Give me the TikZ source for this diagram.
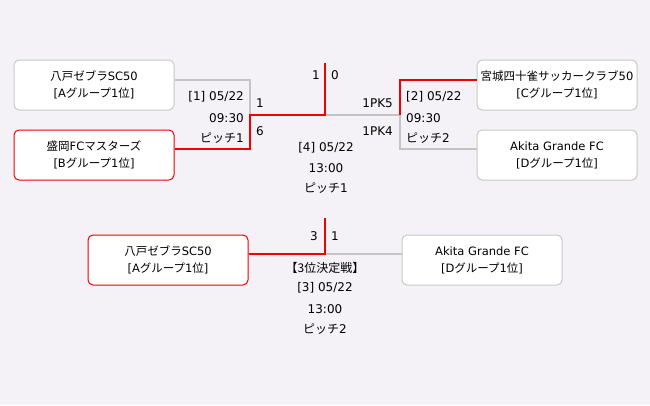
\documentclass[tikz,border=0pt]{standalone}
\usepackage{fontspec}
\setmainfont{DejaVu Sans}
\newfontfamily\jp{Noto Sans CJK JP}
\definecolor{bg}{HTML}{F4F2F7}
\definecolor{boxgray}{HTML}{C8C8C8}
\definecolor{linegray}{HTML}{C4C4C4}
\definecolor{winred}{HTML}{F00000}
\tikzset{
  team/.style={draw=boxgray, fill=white, rounded corners=5pt, line width=1pt,
    minimum width=160pt, minimum height=50pt, inner sep=0pt, align=center,
    font=\fontsize{11.5pt}{17pt}\selectfont},
  winner/.style={team, draw=winred},
  lbl/.style={inner sep=0pt, font=\fontsize{12pt}{14pt}\selectfont},
  grayline/.style={draw=linegray, line width=2pt},
  redline/.style={draw=winred, line width=2pt}
}
\newcommand{\grp}[1]{{[}#1{\jp グループ}1{\jp 位}]}
\begin{document}
\begin{tikzpicture}[x=1pt,y=-1pt]
\useasboundingbox[fill=bg] (0,0) rectangle (650,405);
% teams
\node[team]   (A) at (94,85)  {{\jp 八戸ゼブラ}SC50\\\grp{A}};
\node[winner] (B) at (94,155) {{\jp 盛岡}FC{\jp マスターズ}\\\grp{B}};
\node[team]   (C) at (557,85) {{\jp 宮城四十雀サッカークラブ}50\\\grp{C}};
\node[team]   (D) at (557,155) {Akita Grande FC\\\grp{D}};
\node[winner] (E) at (168,260) {{\jp 八戸ゼブラ}SC50\\\grp{A}};
\node[team]   (F) at (482,260) {Akita Grande FC\\\grp{D}};
% junctions
\coordinate (m1) at (250,115);
\coordinate (fin) at (325,115);
\coordinate (fintop) at (325,63);
\coordinate (m2) at (400,115);
\coordinate (thr) at (325,254);
\coordinate (thrtop) at (325,218);
% connectors
\draw[grayline] ([yshift=5pt]A.east) -| (m1);
\draw[grayline] (fin) -- (m2) |- ([yshift=6pt]D.west);
\draw[grayline] (thr) -- ([yshift=6pt]F.west);
\draw[redline] ([yshift=6pt]B.east) -| (m1) -- (fin) -- (fintop);
\draw[redline] (m2) |- ([yshift=5pt]C.west);
\draw[redline] ([yshift=6pt]E.east) -| (thrtop);
% match 1
\node[lbl, anchor=east] (m1a) at (244,97) {[1] 05/22};
\node[lbl, anchor=east] (m1b) at (244,118) {09:30};
\node[lbl, anchor=east] (m1c) at (244,138) {{\jp ピッチ}1};
\node[lbl, anchor=west] (s1a) at (256,103) {1};
\node[lbl, anchor=west] (s1b) at (256,131) {6};
% final
\node[lbl, anchor=east] (sfa) at (320,75) {1};
\node[lbl, anchor=west] (sfb) at (331,75) {0};
\node[lbl] (f1) at (326,148) {[4] 05/22};
\node[lbl] (f2) at (326,168) {13:00};
\node[lbl] (f3) at (326,188) {{\jp ピッチ}1};
% match 2
\node[lbl, anchor=east] (s2a) at (393,103) {1PK5};
\node[lbl, anchor=east] (s2b) at (393,131) {1PK4};
\node[lbl, anchor=west] (m2a) at (406,97) {[2] 05/22};
\node[lbl, anchor=west] (m2b) at (406,118) {09:30};
\node[lbl, anchor=west] (m2c) at (406,138) {{\jp ピッチ}2};
% third place
\node[lbl, anchor=east] (sta) at (318,236) {3};
\node[lbl, anchor=west] (stb) at (331,236) {1};
\node[lbl] (t0) at (325,268) {{\jp 【3位決定戦】}};
\node[lbl] (t1) at (325,288) {[3] 05/22};
\node[lbl] (t2) at (325,309) {13:00};
\node[lbl] (t3) at (325,329) {{\jp ピッチ}2};
\end{tikzpicture}
\end{document}
